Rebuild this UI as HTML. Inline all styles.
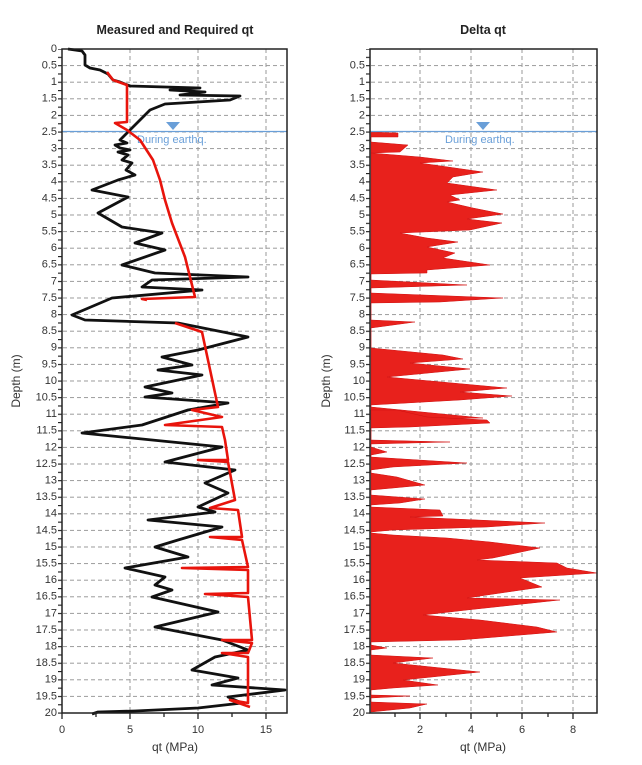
<!DOCTYPE html>
<html><head><meta charset="utf-8"><style>
html,body{margin:0;padding:0;background:#fff;}
svg{display:block;font-family:"Liberation Sans",sans-serif;}
.yl text{font-size:11px;fill:#333;text-anchor:end;dominant-baseline:middle;}
</style></head><body>
<svg width="642" height="765" viewBox="0 0 642 765" xmlns="http://www.w3.org/2000/svg">
<defs>
<pattern id="hg" x="0" y="48.5" width="642" height="16.6" patternUnits="userSpaceOnUse">
<line x1="0" y1="0.5" x2="642" y2="0.5" stroke="#999" stroke-width="1" stroke-dasharray="4,3"/>
</pattern>
<pattern id="mt" x="0" y="48.5" width="10" height="8.3" patternUnits="userSpaceOnUse">
<line x1="0" y1="0.5" x2="10" y2="0.5" stroke="#222" stroke-width="1.3"/>
</pattern>
</defs>
<text x="175" y="34" font-size="12.5" font-weight="bold" text-anchor="middle" fill="#222">Measured and Required qt</text>
<text x="483" y="34" font-size="12.5" font-weight="bold" text-anchor="middle" fill="#222">Delta qt</text>

<rect x="62" y="49" width="225" height="664" fill="url(#hg)"/>
<g stroke="#999" stroke-dasharray="4,3">
<line x1="130" y1="49" x2="130" y2="713"/><line x1="198" y1="49" x2="198" y2="713"/><line x1="266" y1="49" x2="266" y2="713"/>
</g>
<rect x="370" y="49" width="227" height="664" fill="url(#hg)"/>
<g stroke="#999" stroke-dasharray="4,3">
<line x1="420" y1="49" x2="420" y2="713"/><line x1="471" y1="49" x2="471" y2="713"/><line x1="522" y1="49" x2="522" y2="713"/><line x1="573" y1="49" x2="573" y2="713"/>
</g>

<g fill="#e8211c" stroke="#d01010" stroke-width="0.5">
<polygon points="371,132 398,133 398,137 371,137 371,142 408,145 400,152 371,153 420,157 453,161 420,163 483,172 453,177 447,183 497,190 450,195 460,200 447,202 473,208 503,214 467,219 502,223 470,230 400,233 427,238 458,242 427,247 455,253 443,258 490,265 427,270 427,273 371,274 371,280 467,285 371,288 371,293 503,298 440,302 371,303 371,320 415,322 371,328 371,348 443,355 463,359 410,363 470,369 387,377 507,388 460,392 512,396 460,400 371,405 371,407 483,418 371,420"/>
<polygon points="371,410 397,410 427,417 487,420 490,423 410,427 371,428 371,440 450,442 371,444 371,447 387,452 371,455 371,457 467,463 393,467 371,470 371,473 397,477 425,485 393,488 371,490 371,495 425,499 400,503 371,505 371,507 440,510 443,516 410,517 545,523 487,527 393,530 371,532 371,533 393,535 447,538 490,542 540,548 493,558 477,560 557,563 567,568 597,573 520,578 542,587 487,595 467,598 560,600 467,610 423,615 480,620 537,627 557,632 460,640 371,642 371,645 387,648 371,650 371,655 433,658 393,663 480,672 403,680 438,685 393,688 371,690 371,695 410,696 371,698 371,702 427,704 410,708 371,712"/>
</g>

<line x1="62" y1="131.5" x2="287" y2="131.5" stroke="#6a9fd8" stroke-width="1.2"/>
<line x1="370" y1="131.5" x2="597" y2="131.5" stroke="#6a9fd8" stroke-width="1.2"/>
<polygon points="166,122 180,122 173,130" fill="#6a9fd8"/>
<polygon points="476,122 490,122 483,130" fill="#6a9fd8"/>
<text x="137" y="143" font-size="11" fill="#6a9fd8">During earthq.</text>
<text x="445" y="143" font-size="11" fill="#6a9fd8">During earthq.</text>

<polyline fill="none" stroke="#111" stroke-width="2.8" stroke-linejoin="round" points="68,49 82,51 85,55 85,65 90,68 100,70 108,74 113,80 120,82 130,86 200,88 170,90 205,92 180,95 240,96 230,100 165,104 150,110 145,115 140,120 135,125 130,130 125,135 120,140 127,143 115,145 120,148 130,150 118,152 128,155 122,160 132,163 126,170 135,175 118,180 92,190 128,197 98,213 122,227 162,233 135,243 165,250 122,265 155,273 248,277 152,280 142,287 202,290 112,298 72,315 85,320 178,323 248,337 198,350 162,357 192,365 158,370 202,375 145,387 172,393 145,397 228,403 188,410 142,425 82,433 222,447 165,462 235,470 205,483 228,493 198,507 215,512 148,520 222,527 178,540 155,547 188,557 125,568 165,577 155,585 172,590 152,597 218,612 155,627 222,640 248,650 215,657 192,670 238,678 212,685 285,690 228,697 242,703 198,708 135,711 98,712 92,714"/>
<polyline fill="none" stroke="#e8140c" stroke-width="2.6" stroke-linejoin="round" points="107,72 113,80 127,85 127,122 115,123 127,130 140,140 153,160 160,180 165,200 172,223 185,257 195,297 142,299 147,300"/>
<polyline fill="none" stroke="#e8140c" stroke-width="2.6" stroke-linejoin="round" points="175,323 202,332 218,407 192,410 222,417 165,425 222,427 225,440 228,460 198,460 228,462 235,500 210,508 238,510 242,537 210,537 242,540 248,567 182,568 248,570 248,593 205,594 248,597 252,640 222,640 252,643 248,653 222,653 248,657 248,703 230,700 250,707"/>

<rect x="62" y="49" width="225" height="664" fill="none" stroke="#222" stroke-width="1.5"/>
<rect x="370" y="49" width="227" height="664" fill="none" stroke="#222" stroke-width="1.5"/>
<rect x="58" y="49" width="4" height="665" fill="url(#mt)"/>
<rect x="366" y="49" width="4" height="665" fill="url(#mt)"/>
<g stroke="#222" stroke-width="1.3">
<line x1="62" y1="713" x2="62" y2="719"/><line x1="96" y1="713" x2="96" y2="717"/><line x1="130" y1="713" x2="130" y2="719"/><line x1="164" y1="713" x2="164" y2="717"/><line x1="198" y1="713" x2="198" y2="719"/><line x1="232" y1="713" x2="232" y2="717"/><line x1="266" y1="713" x2="266" y2="719"/>
<line x1="395" y1="713" x2="395" y2="717"/><line x1="420" y1="713" x2="420" y2="719"/><line x1="446" y1="713" x2="446" y2="717"/><line x1="471" y1="713" x2="471" y2="719"/><line x1="497" y1="713" x2="497" y2="717"/><line x1="522" y1="713" x2="522" y2="719"/><line x1="548" y1="713" x2="548" y2="717"/><line x1="573" y1="713" x2="573" y2="719"/>
</g>
<g font-size="11" fill="#333" text-anchor="middle">
<text x="62" y="733">0</text><text x="130" y="733">5</text><text x="198" y="733">10</text><text x="266" y="733">15</text>
<text x="420" y="733">2</text><text x="471" y="733">4</text><text x="522" y="733">6</text><text x="573" y="733">8</text>
<text x="175" y="751" font-size="12">qt (MPa)</text><text x="483" y="751" font-size="12">qt (MPa)</text>
</g>
<text transform="translate(20,381) rotate(-90)" font-size="12" fill="#333" text-anchor="middle">Depth (m)</text>
<text transform="translate(330,381) rotate(-90)" font-size="12" fill="#333" text-anchor="middle">Depth (m)</text>

<g class="yl">
<text x="57" y="49">0</text><text x="57" y="65.6">0.5</text><text x="57" y="82.2">1</text><text x="57" y="98.8">1.5</text><text x="57" y="115.4">2</text><text x="57" y="132">2.5</text><text x="57" y="148.6">3</text><text x="57" y="165.2">3.5</text><text x="57" y="181.8">4</text><text x="57" y="198.4">4.5</text><text x="57" y="215">5</text><text x="57" y="231.6">5.5</text><text x="57" y="248.2">6</text><text x="57" y="264.8">6.5</text><text x="57" y="281.4">7</text><text x="57" y="298">7.5</text><text x="57" y="314.6">8</text><text x="57" y="331.2">8.5</text><text x="57" y="347.8">9</text><text x="57" y="364.4">9.5</text><text x="57" y="381">10</text><text x="57" y="397.6">10.5</text><text x="57" y="414.2">11</text><text x="57" y="430.8">11.5</text><text x="57" y="447.4">12</text><text x="57" y="464">12.5</text><text x="57" y="480.6">13</text><text x="57" y="497.2">13.5</text><text x="57" y="513.8">14</text><text x="57" y="530.4">14.5</text><text x="57" y="547">15</text><text x="57" y="563.6">15.5</text><text x="57" y="580.2">16</text><text x="57" y="596.8">16.5</text><text x="57" y="613.4">17</text><text x="57" y="630">17.5</text><text x="57" y="646.6">18</text><text x="57" y="663.2">18.5</text><text x="57" y="679.8">19</text><text x="57" y="696.4">19.5</text><text x="57" y="713">20</text>
</g>
<g class="yl">
<text x="365" y="65.6">0.5</text><text x="365" y="82.2">1</text><text x="365" y="98.8">1.5</text><text x="365" y="115.4">2</text><text x="365" y="132">2.5</text><text x="365" y="148.6">3</text><text x="365" y="165.2">3.5</text><text x="365" y="181.8">4</text><text x="365" y="198.4">4.5</text><text x="365" y="215">5</text><text x="365" y="231.6">5.5</text><text x="365" y="248.2">6</text><text x="365" y="264.8">6.5</text><text x="365" y="281.4">7</text><text x="365" y="298">7.5</text><text x="365" y="314.6">8</text><text x="365" y="331.2">8.5</text><text x="365" y="347.8">9</text><text x="365" y="364.4">9.5</text><text x="365" y="381">10</text><text x="365" y="397.6">10.5</text><text x="365" y="414.2">11</text><text x="365" y="430.8">11.5</text><text x="365" y="447.4">12</text><text x="365" y="464">12.5</text><text x="365" y="480.6">13</text><text x="365" y="497.2">13.5</text><text x="365" y="513.8">14</text><text x="365" y="530.4">14.5</text><text x="365" y="547">15</text><text x="365" y="563.6">15.5</text><text x="365" y="580.2">16</text><text x="365" y="596.8">16.5</text><text x="365" y="613.4">17</text><text x="365" y="630">17.5</text><text x="365" y="646.6">18</text><text x="365" y="663.2">18.5</text><text x="365" y="679.8">19</text><text x="365" y="696.4">19.5</text><text x="365" y="713">20</text>
</g>
</svg>
</body></html>
